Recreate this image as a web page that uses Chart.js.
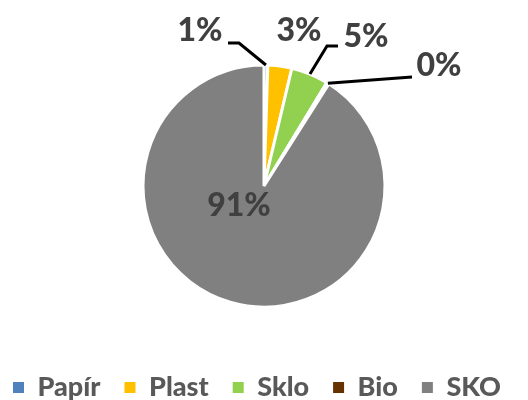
<!DOCTYPE html>
<html>
<head>
<meta charset="utf-8">
<script src="https://cdn.jsdelivr.net/npm/chart.js@4"></script>
<style>
  html, body { margin: 0; padding: 0; background: #fff; }
  #obal { width: 528px; height: 400px; }
</style>
</head>
<body>
<div id="obal"><canvas id="graf"></canvas></div>
<script>
const kategorie = ['Papír', 'Plast', 'Sklo', 'Bio', 'SKO'];
const podily = [0.5, 3.2, 5.0, 0.3, 91.0];
const barvy = ['#4F81BD', '#FFC000', '#92D050', '#663300', '#808080'];

// umisteni popisku vuci stredu kolace (px), volitelne i lomena vodici cara
const popisky = [
  { dx: -64, dy: -155, cara: [[-25, -143], [-36, -143]] },
  { dx: 35, dy: -155, cara: null },
  { dx: 102, dy: -149, cara: [[63, -140], [74, -140]] },
  { dx: 175, dy: -120, cara: [[148, -109]] },
  { dx: -25, dy: 20, cara: null }
];

const popiskyPlugin = {
  id: 'popisky',
  afterDatasetsDraw: function (chart) {
    const ctx = chart.ctx;
    const meta = chart.getDatasetMeta(0);
    const data = chart.data.datasets[0].data;
    const soucet = data.reduce(function (a, b) { return a + b; }, 0);
    ctx.save();
    meta.data.forEach(function (arc, i) {
      const p = popisky[i];
      const cx = arc.x;
      const cy = arc.y;
      if (p.cara) {
        const uhel = (arc.startAngle + arc.endAngle) / 2;
        ctx.beginPath();
        ctx.moveTo(cx + Math.cos(uhel) * arc.outerRadius, cy + Math.sin(uhel) * arc.outerRadius);
        p.cara.forEach(function (bod) {
          ctx.lineTo(cx + bod[0], cy + bod[1]);
        });
        ctx.strokeStyle = '#000';
        ctx.lineWidth = 3;
        ctx.stroke();
      }
      ctx.fillStyle = '#404040';
      ctx.font = '900 32px Lato';
      ctx.textAlign = 'center';
      ctx.textBaseline = 'middle';
      ctx.fillText(Math.round(data[i] / soucet * 100) + '%', cx + p.dx, cy + p.dy);
    });
    ctx.restore();
  }
};

new Chart(document.getElementById('graf'), {
  type: 'pie',
  data: {
    labels: kategorie,
    datasets: [{
      data: podily,
      backgroundColor: barvy,
      borderColor: '#fff',
      borderWidth: 3,
      radius: 121
    }]
  },
  options: {
    responsive: true,
    maintainAspectRatio: false,
    animation: false,
    layout: {
      padding: { top: 22, bottom: -11, left: -11, right: -7 }
    },
    plugins: {
      tooltip: { enabled: false },
      legend: {
        position: 'bottom',
        align: 'start',
        labels: {
          color: '#595959',
          font: { family: 'Lato', size: 27, weight: '900' },
          boxWidth: 11,
          boxHeight: 11,
          padding: 24,
          generateLabels: function (chart) {
            const polozky = Chart.overrides.pie.plugins.legend.labels.generateLabels(chart);
            polozky.forEach(function (p) {
              p.lineWidth = 0;
              p.strokeStyle = p.fillStyle;
            });
            return polozky;
          }
        }
      }
    }
  },
  plugins: [popiskyPlugin]
});
</script>
</body>
</html>
